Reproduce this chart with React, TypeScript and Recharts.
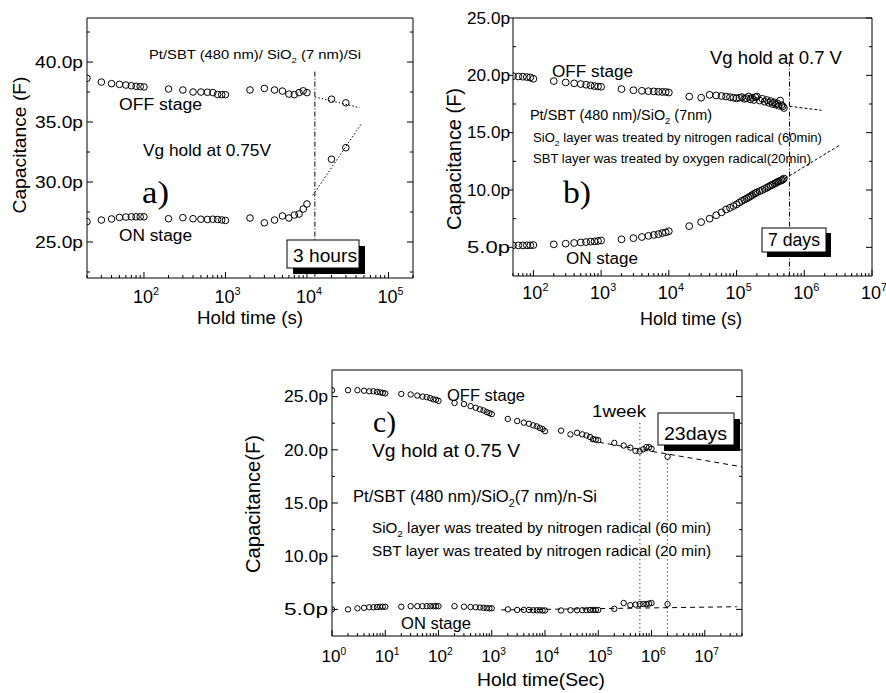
import React from "react";
import { ReferenceLine, Scatter, ScatterChart, XAxis, YAxis } from "recharts";

const SANS = '"Liberation Sans", Arial, Helvetica, sans-serif';
const SERIF = '"Liberation Serif", "DejaVu Serif", serif';

type Pt = { x: number; y: number };

// ---- (a) Pt/SBT/SiO2/Si, Vg hold 0.75 V
const A_TIME = [20, 30, 40, 50, 60, 70, 80, 90, 100, 200, 300, 400, 500, 600, 700, 800, 900, 1000,
  2000, 3000, 4000, 5000, 6000, 7000, 8000, 9000, 10000, 20000, 30000];
const A_OFF = [38.64, 38.33, 38.2, 38.14, 38.08, 38.02, 37.98, 37.95, 37.92, 37.75, 37.67, 37.5, 37.5,
  37.48, 37.45, 37.3, 37.28, 37.28, 37.67, 37.8, 37.67, 37.58, 37.33, 37.28, 37.45, 37.6, 37.45, 36.9, 36.6];
const A_ON = [26.7, 26.83, 26.92, 27.05, 27.08, 27.1, 27.1, 27.1, 27.1, 26.94, 27.03, 26.94, 26.9, 26.88,
  26.9, 26.88, 26.84, 26.8, 27.0, 26.6, 26.83, 27.17, 27.0, 27.25, 27.33, 27.75, 28.17, 31.9, 32.86];
const A_OFF_FIT = [{ x: 12500, y: 37.1 }, { x: 44000, y: 36.2 }];
const A_ON_FIT = [{ x: 11800, y: 28.9 }, { x: 47000, y: 34.9 }];
const A_MARK = [{ x: 12500, y: 39.2 }, { x: 12500, y: 22 }];
const A_X_TICKS = [100, 1000, 10000, 100000];
const A_Y_TICKS = [25, 30, 35, 40];
const A_Y_MINOR = [22.5, 27.5, 32.5, 37.5, 42.5];

// ---- (b) nitrogen / oxygen radical treated, Vg hold 0.7 V
const B_TIME = [50, 60, 70, 80, 90, 100, 200, 300, 400, 500, 600, 700, 800, 900, 1000,
  2000, 3000, 4000, 5000, 6000, 7000, 8000, 9000, 10000, 20000, 30000, 40000,
  50000, 60000, 70000, 80000, 90000, 100000, 110000, 120000, 130000, 140000, 150000, 160000,
  170000, 180000, 190000, 200000, 220000, 240000, 260000, 280000, 300000, 320000, 340000,
  360000, 380000, 400000, 420000, 440000, 460000, 480000, 500000];
const B_OFF = [19.93, 19.9, 19.88, 19.85, 19.82, 19.7, 19.5, 19.38, 19.3, 19.24, 19.18, 19.12, 19.06,
  19.03, 19.0, 18.8, 18.7, 18.65, 18.62, 18.6, 18.57, 18.55, 18.55, 18.5, 18.15, 18.05, 18.3,
  18.25, 18.2, 18.15, 18.1, 18.05, 18.0, 18.05, 18.1, 17.95, 18.0, 18.15, 17.9, 18.05, 17.85,
  18.1, 18.15, 17.8, 17.95, 17.7, 17.85, 17.6, 17.75, 17.5, 17.65, 17.45, 17.55, 17.35, 17.8,
  17.4, 17.3, 17.15];
const B_ON = [5.17, 5.17, 5.17, 5.18, 5.18, 5.2, 5.26, 5.32, 5.38, 5.42, 5.46, 5.5, 5.52, 5.55, 5.6,
  5.7, 5.8, 5.9, 6.0, 6.08, 6.15, 6.25, 6.3, 6.4, 6.85, 7.2, 7.5,
  7.8, 8.05, 8.3, 8.45, 8.6, 8.75, 8.9, 9.05, 9.15, 9.25, 9.35, 9.45, 9.55, 9.65, 9.72, 9.8,
  9.9, 10.0, 10.1, 10.2, 10.3, 10.4, 10.45, 10.55, 10.6, 10.7, 10.75, 10.8, 10.85, 10.9, 11.0];
const B_OFF_FIT = [{ x: 605000, y: 17.3 }, { x: 1800000, y: 16.95 }];
const B_ON_FIT = [{ x: 520000, y: 11.0 }, { x: 3300000, y: 13.9 }];
const B_MARK = [{ x: 605000, y: 21.2 }, { x: 605000, y: 2.5 }];
const B_X_TICKS = [100, 1000, 10000, 100000, 1000000, 10000000];
const B_Y_TICKS = [5, 10, 15, 20, 25];
const B_Y_MINOR = [7.5, 12.5, 17.5, 22.5];

// ---- (c) 23 days hold, Vg 0.75 V
const C_TIME = [1, 2, 3, 4, 5, 6, 7, 8, 9, 10, 20, 30, 40, 50, 60, 70, 80, 90, 100,
  200, 300, 400, 500, 600, 700, 800, 900, 1000, 2000, 3000, 4000, 5000, 6000, 7000, 8000, 9000, 10000,
  20000, 30000, 40000, 50000, 60000, 70000, 80000, 90000, 100000,
  200000, 300000, 400000, 500000, 600000, 700000, 800000, 900000, 1000000, 2000000];
const C_OFF = [25.6, 25.6, 25.6, 25.55, 25.5, 25.5, 25.45, 25.4, 25.35, 25.3,
  25.25, 25.2, 25.1, 25.0, 24.95, 24.85, 24.75, 24.7, 24.6,
  24.4, 24.3, 24.1, 23.95, 23.8, 23.7, 23.55, 23.45, 23.35,
  22.9, 22.7, 22.55, 22.45, 22.3, 22.2, 22.05, 21.95, 21.75,
  21.8, 21.45, 21.6, 21.45, 21.35, 21.2, 21.0, 20.95, 20.9,
  20.65, 20.4, 20.2, 19.9, 19.85, 20.05, 20.25, 20.25, 20.1, 19.35];
const C_ON = [5.0, 5.0, 5.1, 5.15, 5.2, 5.2, 5.22, 5.25, 5.25, 5.25,
  5.25, 5.3, 5.3, 5.3, 5.3, 5.3, 5.3, 5.3, 5.3,
  5.3, 5.25, 5.22, 5.2, 5.18, 5.15, 5.12, 5.1, 5.1,
  5.0, 4.95, 4.95, 4.95, 4.92, 4.92, 4.92, 4.9, 4.9,
  4.9, 4.92, 4.92, 4.93, 4.93, 4.95, 4.95, 4.95, 4.95,
  5.05, 5.6, 5.4, 5.45, 5.5, 5.5, 5.5, 5.55, 5.6, 5.5];
const C_OFF_FIT = [{ x: 70000, y: 20.85 }, { x: 50000000, y: 18.4 }];
const C_ON_FIT = [{ x: 1500, y: 4.95 }, { x: 40000000, y: 5.25 }];
const C_WEEK = [{ x: 604800, y: 22.5 }, { x: 604800, y: 2.5 }];
const C_23D = [{ x: 1987200, y: 19.1 }, { x: 1987200, y: 2.5 }];
const C_X_TICKS = [1, 10, 100, 1000, 10000, 100000, 1000000, 10000000];
const C_Y_TICKS = [5, 10, 15, 20, 25];
const C_Y_MINOR = [7.5, 12.5, 17.5, 22.5];

const zip = (xs: number[], ys: number[]): Pt[] => xs.map((x, i) => ({ x, y: ys[i] }));

// decade ticks plus the 2..9 minors between them
function logTicks(lo: number, hi: number) {
  const out: number[] = [];
  for (let e = Math.floor(Math.log10(lo)); e <= Math.ceil(Math.log10(hi)); e++) {
    for (let m = 1; m < 10; m++) {
      const v = m * Math.pow(10, e);
      if (v >= lo && v <= hi) out.push(v);
    }
  }
  return out;
}

const isDecade = (v: number) => Math.abs(Math.log10(v) - Math.round(Math.log10(v))) < 1e-6;

function BottomTick({ x, y, payload, fs, dy, supDy }: any) {
  const v = payload.value;
  const major = isDecade(v);
  return (
    <g>
      <line x1={x} x2={x} y1={y} y2={y - (major ? 6 : 3)} stroke="#000" />
      {major && (
        <>
          <text x={x - 1} y={y + dy} textAnchor="middle" fontSize={fs} fontFamily={SANS} fill="#000">
            10
          </text>
          <text x={x - 1 + fs * 0.56} y={y + dy + supDy} fontSize={fs * 0.6} fontFamily={SANS} fill="#000">
            {Math.round(Math.log10(v))}
          </text>
        </>
      )}
    </g>
  );
}

function TopTick({ x, y, payload }: any) {
  const major = isDecade(payload.value);
  return <line x1={x} x2={x} y1={y} y2={y + (major ? 6 : 3)} stroke="#000" />;
}

function LeftTick({ x, y, payload, majors, fs, w, out }: any) {
  const v = payload.value;
  const major = majors.includes(v);
  const x2 = major && out ? x - 4 : x + (major ? 6 : 3);
  return (
    <g>
      <line x1={x} x2={x2} y1={y} y2={y} stroke="#000" />
      {major && (
        <text x={out ? x - 3 : x - 4} y={y} dy="0.36em" textAnchor="end" fontSize={fs} fontFamily={SANS} fill="#000"
          textLength={w} lengthAdjust="spacingAndGlyphs">
          {v.toFixed(1)}p
        </text>
      )}
    </g>
  );
}

function RightTick({ x, y, payload, majors }: any) {
  const major = majors.includes(payload.value);
  return <line x1={x} x2={x - (major ? 6 : 3)} y1={y} y2={y} stroke="#000" />;
}

type Seg = { pts: Pt[]; dash: string };

function Panel(props: {
  box: { left: number; top: number; width: number; height: number };
  plot: { left: number; right: number; top: number; bottom: number };
  xDomain: [number, number];
  yDomain: [number, number];
  xTicks: number[];
  yTicks: number[];
  yMinor: number[];
  series: Pt[][];
  segs: Seg[];
  r: number;
  yFont: number;
  yW: number;
  yOut?: boolean;
  xFont: number;
  xDy: number;
  supDy: number;
}) {
  const { box, plot, xDomain, yDomain, yTicks, yMinor, series, segs, r } = props;
  const xAll = logTicks(xDomain[0], xDomain[1]);
  const yAll = [...yTicks, ...yMinor].sort((a, b) => a - b);
  const axisH = 30;
  return (
    <div style={{ position: "absolute", left: box.left, top: box.top }}>
      <ScatterChart
        width={box.width}
        height={box.height}
        margin={{
          top: plot.top - box.top - 1,
          right: box.left + box.width - plot.right - 1,
          bottom: box.top + box.height - plot.bottom - axisH,
          left: 0,
        }}
      >
        <XAxis xAxisId={0} dataKey="x" type="number" scale="log" domain={xDomain} allowDataOverflow
          ticks={xAll} interval={0} tickSize={0} tickMargin={0} tickLine={false} height={axisH}
          axisLine={{ stroke: "#000" }}
          tick={<BottomTick fs={props.xFont} dy={props.xDy} supDy={props.supDy} />} />
        <XAxis xAxisId="top" orientation="top" type="number" scale="log" domain={xDomain} allowDataOverflow
          ticks={xAll} interval={0} tickSize={0} tickMargin={0} tickLine={false} height={1}
          axisLine={{ stroke: "#000" }} tick={<TopTick />} />
        <YAxis yAxisId={0} dataKey="y" type="number" domain={yDomain} allowDataOverflow
          ticks={yAll} interval={0} tickSize={0} tickMargin={0} tickLine={false}
          width={plot.left - box.left} axisLine={{ stroke: "#000" }}
          tick={<LeftTick majors={yTicks} fs={props.yFont} w={props.yW} out={props.yOut} />} />
        <YAxis yAxisId="r" orientation="right" type="number" domain={yDomain} allowDataOverflow
          ticks={yAll} interval={0} tickSize={0} tickMargin={0} tickLine={false} width={1}
          axisLine={{ stroke: "#000" }} tick={<RightTick majors={yTicks} />} />
        {segs.map((s, i) => (
          <ReferenceLine key={i} segment={s.pts} stroke="#000" strokeWidth={1}
            strokeDasharray={s.dash} ifOverflow="visible" />
        ))}
        {series.map((d, i) => (
          <Scatter key={i} data={d} isAnimationActive={false}
            shape={(p: any) => <circle cx={p.cx} cy={p.cy} r={r} fill="none" stroke="#000" strokeWidth={1} />} />
        ))}
      </ScatterChart>
    </div>
  );
}

function Txt({ x, y, fs, w, children, anchor = "start", family = SANS, rotate = false }: any) {
  return (
    <text x={x} y={y} fontSize={fs} fontFamily={family} textAnchor={anchor} fill="#000"
      textLength={w} lengthAdjust="spacingAndGlyphs"
      transform={rotate ? `rotate(-90 ${x} ${y})` : undefined}>
      {children}
    </text>
  );
}

function Sub({ fs, children }: any) {
  return (
    <>
      <tspan dy={fs * 0.3} fontSize={fs * 0.65}>2</tspan>
      <tspan dy={-fs * 0.3}>{children}</tspan>
    </>
  );
}

function TagBox({ x, y, w, h, d }: any) {
  return (
    <g>
      <rect x={x + d} y={y + d} width={w} height={h} fill="#000" />
      <rect x={x} y={y} width={w} height={h} fill="#fff" stroke="#000" strokeWidth={1} />
    </g>
  );
}

export default function App() {
  return (
    <div style={{ position: "absolute", left: 0, top: 0, width: 886, height: 693, background: "#fff" }}>
      <Panel
        box={{ left: 0, top: 0, width: 440, height: 335 }}
        plot={{ left: 87, right: 413, top: 18, bottom: 278 }}
        xDomain={[20, 200000]} yDomain={[22, 43.67]}
        xTicks={A_X_TICKS} yTicks={A_Y_TICKS} yMinor={A_Y_MINOR}
        series={[zip(A_TIME, A_OFF), zip(A_TIME, A_ON)]}
        segs={[
          { pts: A_OFF_FIT, dash: "1.5 2" },
          { pts: A_ON_FIT, dash: "1.5 2" },
          { pts: A_MARK, dash: "5 2 1 2" },
        ]}
        r={3.3} yFont={17} yW={48} xFont={18} xDy={25} supDy={-8}
      />
      <Panel
        box={{ left: 440, top: 0, width: 446, height: 335 }}
        plot={{ left: 513, right: 872, top: 18, bottom: 276 }}
        xDomain={[50, 10000000]} yDomain={[2.5, 25]}
        xTicks={B_X_TICKS} yTicks={B_Y_TICKS} yMinor={B_Y_MINOR}
        series={[zip(B_TIME, B_OFF), zip(B_TIME, B_ON)]}
        segs={[
          { pts: B_OFF_FIT, dash: "3 2" },
          { pts: B_ON_FIT, dash: "3 2" },
          { pts: B_MARK, dash: "5 2 1 2" },
        ]}
        r={3.4} yFont={16} yW={43} yOut xFont={18} xDy={23} supDy={-8}
      />
      <Panel
        box={{ left: 230, top: 340, width: 540, height: 353 }}
        plot={{ left: 332, right: 742, top: 370, bottom: 636 }}
        xDomain={[1, 50000000]} yDomain={[2.5, 27.5]}
        xTicks={C_X_TICKS} yTicks={C_Y_TICKS} yMinor={C_Y_MINOR}
        series={[zip(C_TIME, C_OFF), zip(C_TIME, C_ON)]}
        segs={[
          { pts: C_OFF_FIT, dash: "5 4" },
          { pts: C_ON_FIT, dash: "5 4" },
          { pts: C_WEEK, dash: "1 3" },
          { pts: C_23D, dash: "1 3" },
        ]}
        r={2.7} yFont={16} yW={44} xFont={17} xDy={26} supDy={-7}
      />
      <svg width={886} height={693} style={{ position: "absolute", left: 0, top: 0, pointerEvents: "none" }}>
        {/* (a) */}
        <Txt x={26} y={145} fs={19} w={137} anchor="middle" rotate>Capacitance (F)</Txt>
        <Txt x={250} y={324} fs={18} w={106} anchor="middle">Hold time (s)</Txt>
        <Txt x={149} y={59} fs={12.5} w={212}>
          Pt/SBT (480 nm)/ SiO<Sub fs={12.5}> (7 nm)/Si</Sub>
        </Txt>
        <Txt x={119} y={110} fs={16} w={83}>OFF stage</Txt>
        <Txt x={143} y={156} fs={17} w={128}>Vg hold at 0.75V</Txt>
        <Txt x={142} y={203} fs={32} w={27} family={SERIF}>a)</Txt>
        <Txt x={119} y={241} fs={16} w={73}>ON stage</Txt>
        <TagBox x={287} y={240} w={72} h={28} d={6} />
        <Txt x={293} y={262} fs={18} w={64}>3 hours</Txt>

        {/* (b) */}
        <Txt x={461} y={159} fs={20} w={142} anchor="middle" rotate>Capacitance (F)</Txt>
        <Txt x={691} y={325} fs={19} w={102} anchor="middle">Hold time (s)</Txt>
        <Txt x={710} y={64} fs={19} w={132}>Vg hold at 0.7 V</Txt>
        <Txt x={552} y={77} fs={16} w={81}>OFF stage</Txt>
        <Txt x={530} y={120} fs={14} w={182}>
          Pt/SBT (480 nm)/SiO<Sub fs={14}> (7nm)</Sub>
        </Txt>
        <Txt x={533} y={142} fs={12.5} w={289}>
          SiO<Sub fs={12.5}> layer was treated by nitrogen radical (60min)</Sub>
        </Txt>
        <Txt x={533} y={163} fs={12.5} w={278}>SBT layer was treated by oxygen radical(20min)</Txt>
        <Txt x={563} y={203} fs={32} w={28} family={SERIF}>b)</Txt>
        <Txt x={566} y={264} fs={16} w={72}>ON stage</Txt>
        <TagBox x={762} y={228} w={64} h={24} d={5} />
        <Txt x={768} y={246} fs={18} w={52}>7 days</Txt>

        {/* (c) */}
        <Txt x={260} y={504} fs={20} w={138} anchor="middle" rotate>Capacitance(F)</Txt>
        <Txt x={541} y={686} fs={19} w={128} anchor="middle">Hold time(Sec)</Txt>
        <Txt x={447} y={401} fs={16} w={78}>OFF stage</Txt>
        <Txt x={373} y={432} fs={30} w={23} family={SERIF}>c)</Txt>
        <Txt x={372} y={457} fs={18} w={148}>Vg hold at 0.75 V</Txt>
        <Txt x={592} y={417} fs={17} w={54}>1week</Txt>
        <TagBox x={658} y={413} w={76} h={32} d={6} />
        <Txt x={664} y={440} fs={19} w={63}>23days</Txt>
        <Txt x={353} y={502} fs={16} w={244}>
          Pt/SBT (480 nm)/SiO<Sub fs={16}>(7 nm)/n-Si</Sub>
        </Txt>
        <Txt x={372} y={533} fs={14} w={339}>
          SiO<Sub fs={14}> layer was treated by nitrogen radical (60 min)</Sub>
        </Txt>
        <Txt x={372} y={556} fs={14} w={339}>SBT layer was treated by nitrogen radical (20 min)</Txt>
        <Txt x={401} y={629} fs={16} w={70}>ON stage</Txt>
      </svg>
    </div>
  );
}
